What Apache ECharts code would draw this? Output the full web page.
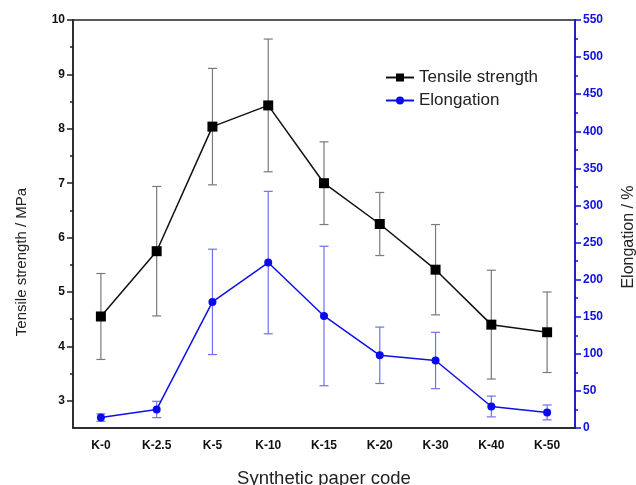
<!DOCTYPE html>
<html>
<head>
<meta charset="utf-8">
<script src="https://cdn.jsdelivr.net/npm/echarts@6/dist/echarts.min.js"></script>
<style>
  html, body { margin: 0; padding: 0; background: #fff; }
  #chart { width: 636px; height: 485px; }
</style>
</head>
<body>
<div id="chart"></div>
<script>
// values
var codes = ['K-0', 'K-2.5', 'K-5', 'K-10', 'K-15', 'K-20', 'K-30', 'K-40', 'K-50']
var tensile = [4.55, 5.75, 8.04, 8.43, 7.0, 6.25, 5.41, 4.4, 4.26]
var tensileSd = [0.79, 1.19, 1.07, 1.22, 0.76, 0.58, 0.83, 1.0, 0.74]
var elongation = [14, 25, 170, 223, 151, 98, 91, 29, 21]
var elongationSd = [5, 11, 71, 96, 94, 38, 38, 14, 10]
var leftLabels = [3, 4, 5, 6, 7, 8, 9, 10]
var leftMinor = [3.5, 4.5, 5.5, 6.5, 7.5, 8.5, 9.5]

var font = 'Liberation Sans, Arial, sans-serif'

function errorData(mean, sd) {
    return mean.map(function (m, i) {
        return [i, m - sd[i], m + sd[i]]
    })
}

function errorBars(color) {
    return function (params, api) {
        var lo = api.coord([api.value(0), api.value(1)])
        var hi = api.coord([api.value(0), api.value(2)])
        var w = 4.5
        var style = { stroke: color, lineWidth: 1.2 }
        return {
            type: 'group',
            children: [
                { type: 'line', shape: { x1: lo[0], y1: lo[1], x2: hi[0], y2: hi[1] }, style: style },
                { type: 'line', shape: { x1: lo[0] - w, y1: lo[1], x2: lo[0] + w, y2: lo[1] }, style: style },
                { type: 'line', shape: { x1: hi[0] - w, y1: hi[1], x2: hi[0] + w, y2: hi[1] }, style: style }
            ]
        }
    }
}

var chart = echarts.init(document.getElementById('chart'))
chart.setOption({
    animation: false,
    textStyle: { fontFamily: font },
    grid: {
        left: 73, right: 61, top: 20, bottom: 57,
        outerBoundsMode: 'none',
        containLabel: false,
        show: true, borderColor: '#222', borderWidth: 1.5
    },
    legend: {
        orient: 'vertical',
        left: 380, top: 64,
        itemWidth: 28, itemHeight: 10, itemGap: 6,
        textStyle: { fontSize: 17, color: '#222', fontFamily: font },
        data: ['Tensile strength', 'Elongation']
    },
    xAxis: {
        type: 'category',
        data: codes,
        boundaryGap: true,
        axisLine: { lineStyle: { color: '#222', width: 1.5 } },
        axisTick: { alignWithLabel: true, length: 6, lineStyle: { color: '#222', width: 1.5 } },
        axisLabel: { color: '#111', fontWeight: 'bold', fontSize: 12, margin: 12 },
        name: 'Synthetic paper code',
        nameLocation: 'middle',
        nameGap: 41,
        nameTextStyle: { fontSize: 18.5, color: '#222' }
    },
    yAxis: [{
        type: 'value',
        position: 'left',
        min: 2.5, max: 10, interval: 0.5,
        axisLine: { show: true, lineStyle: { color: '#222', width: 1.5 } },
        axisTick: { show: true, length: 6, customValues: leftLabels, lineStyle: { color: '#222', width: 1.5 } },
        axisLabel: { customValues: leftLabels, color: '#111', fontWeight: 'bold', fontSize: 12, margin: 8 },
        splitLine: { show: false },
        name: 'Tensile strength / MPa',
        nameLocation: 'middle',
        nameRotate: 90,
        nameGap: 44,
        nameTextStyle: { fontSize: 15, color: '#222', padding: [0, 76, 0, 0] }
    }, {
        type: 'value',
        position: 'right',
        min: 0, max: 550, interval: 50,
        axisLine: { show: true, lineStyle: { color: '#1010e0', width: 1.5 } },
        axisTick: { show: true, length: 6, lineStyle: { color: '#1010e0', width: 1.5 } },
        minorTick: { show: true, splitNumber: 2, length: 3, lineStyle: { color: '#1010e0', width: 1.5 } },
        axisLabel: { color: '#1010e0', fontWeight: 'bold', fontSize: 12, margin: 8 },
        splitLine: { show: false },
        name: 'Elongation / %',
        nameLocation: 'middle',
        nameRotate: 90,
        nameGap: 46,
        nameTextStyle: { fontSize: 16, color: '#222', padding: [0, 26, 0, 0] }
    }, {
        // minor ticks of the left axis
        type: 'value',
        position: 'left',
        min: 2.5, max: 10, interval: 0.5,
        axisLine: { show: false },
        axisTick: { show: true, length: 3, customValues: leftMinor, lineStyle: { color: '#222', width: 1.5 } },
        axisLabel: { show: false },
        splitLine: { show: false }
    }],
    series: [{
        type: 'custom',
        name: 'tensileErr',
        yAxisIndex: 0,
        renderItem: errorBars('#7a7a7a'),
        data: errorData(tensile, tensileSd),
        z: 1
    }, {
        type: 'custom',
        name: 'elongationErr',
        yAxisIndex: 1,
        renderItem: errorBars('#7070f0'),
        data: errorData(elongation, elongationSd),
        z: 1
    }, {
        name: 'Tensile strength',
        type: 'line',
        yAxisIndex: 0,
        data: tensile,
        symbol: 'rect',
        symbolSize: 10,
        lineStyle: { color: '#111', width: 1.5 },
        itemStyle: { color: '#000' },
        z: 3
    }, {
        name: 'Elongation',
        type: 'line',
        yAxisIndex: 1,
        data: elongation,
        symbol: 'circle',
        symbolSize: 8,
        lineStyle: { color: '#1010e8', width: 1.5 },
        itemStyle: { color: '#0a0aef' },
        z: 3
    }]
})
</script>
</body>
</html>
